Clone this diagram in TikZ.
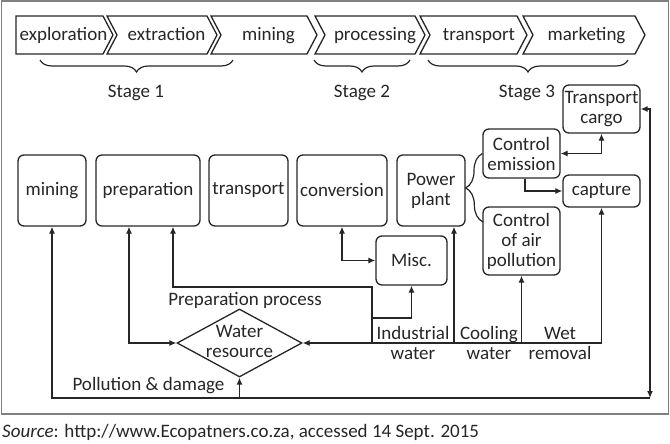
\documentclass[tikz,border=0pt]{standalone}
\usepackage{fontspec}
\setmainfont{Carlito}
\usetikzlibrary{arrows.meta,decorations.pathreplacing,shapes.geometric}
\definecolor{ln}{HTML}{262626}
\definecolor{fr}{HTML}{808080}
\begin{document}
\begin{tikzpicture}[x=1pt,y=-1pt,
  font=\fontsize{19}{20}\selectfont,
  every node/.style={text=ln},
  box/.style={draw=ln, line width=1.3pt, rounded corners=6pt, align=center, inner sep=1pt},
  arr/.style={draw=ln, line width=1.25pt, -{Latex[length=7pt,width=6pt]}},
  darr/.style={draw=ln, line width=1.25pt, {Latex[length=7pt,width=6pt]}-{Latex[length=7pt,width=6pt]}},
  chev/.style={draw=ln, line width=1.3pt, line join=miter},
  chl/.style={inner sep=0pt, text height=12.5pt, text depth=4pt},
  lbl/.style={align=center, inner sep=0pt},
  brc/.style={draw=ln, line width=1.2pt, decorate}]
\useasboundingbox (0,0) rectangle (670,444);
% frame
\draw[fr, line width=1.5pt] (1.5,1) rectangle (668.5,414);
% chevrons
\draw[chev] (16,16) -- (103,16) -- (113,35) -- (103,54) -- (16,54) -- cycle;
\draw[chev] (107,16) -- (207,16) -- (217,35) -- (207,54) -- (107,54) -- (117,35) -- cycle;
\draw[chev] (211,16) -- (307,16) -- (317,35) -- (307,54) -- (211,54) -- (221,35) -- cycle;
\draw[chev] (315,16) -- (415,16) -- (425,35) -- (415,54) -- (315,54) -- (325,35) -- cycle;
\draw[chev] (420,16) -- (517,16) -- (527,35) -- (517,54) -- (420,54) -- (430,35) -- cycle;
\draw[chev] (523,16) -- (635,16) -- (645,35) -- (635,54) -- (523,54) -- (533,35) -- cycle;
\node[chl] (ch1) at (63.5,36.5) {exploration};
\node[chl] (ch2) at (166.5,36.5) {extraction};
\node[chl] (ch3) at (268.5,36.5) {mining};
\node[chl] (ch4) at (375,36.5) {processing};
\node[chl] (ch5) at (479,36.5) {transport};
\node[chl] (ch6) at (586.5,36.5) {marketing};
% braces
\draw[brc, decoration={brace, amplitude=12pt}] (233,60) -- (40,60);
\draw[brc, decoration={brace, amplitude=12pt}] (410,60) -- (314,60);
\draw[brc, decoration={brace, amplitude=12pt}] (628,60) -- (428,60);
\node (s1) at (136,92.5) {Stage 1};
\node (s2) at (362,92.5) {Stage 2};
\node (s3) at (527,92.5) {Stage 3};
% boxes
\node[box, minimum width=68pt, minimum height=71pt] (mining) at (52,190.5) {mining};
\node[box, minimum width=104pt, minimum height=71pt] (prep) at (148,190.5) {preparation};
\node[box, minimum width=79pt, minimum height=71pt] (trans) at (248.5,190.5) {transport};
\node[box, minimum width=90pt, minimum height=71pt] (conv) at (342,190.5) {conversion};
\node[box, minimum width=68pt, minimum height=71pt] (pp) at (431,190.5) {Power\\plant};
\node[box, minimum width=71pt, minimum height=49pt] (misc) at (411.5,260.5) {Misc.};
\node[box, minimum width=77pt, minimum height=49pt] (ce) at (521.5,153.5) {Control\\emission};
\node[box, minimum width=77pt, minimum height=68pt] (cair) at (521.5,241) {Control\\of air\\pollution};
\node[box, minimum width=77pt, minimum height=48pt] (tc) at (601.5,109) {Transport\\cargo};
\node[box, minimum width=77pt, minimum height=32pt] (cap) at (601.5,191) {capture};
\node[diamond, draw=ln, line width=1.3pt, minimum width=125pt, minimum height=68pt, inner sep=0pt] (wr) at (239.5,343) {};
\node[lbl] (wrt) at (239.5,341) {Water\\resource};
% brace power plant -> controls
\coordinate (bB) at (483,222);
\draw[brc, decoration={brace, amplitude=17pt}] (bB) -- (ce.west);
% named free points
\coordinate (bl) at (52,398);
\coordinate (br) at (650,398);
\coordinate (iw) at (372,343);
\coordinate (im) at (372,318);
\coordinate (ip) at (372,287);
\coordinate (prA) at ([xshift=-19pt]prep.south);
\coordinate (prB) at ([xshift=25pt]prep.south);
\coordinate (ppin) at ([xshift=23pt]pp.south);
\coordinate (ceo) at ([xshift=3.5pt]ce.south);
% connectors
\draw[darr] (tc.east) -| (br);
\draw[arr] (br) -- (bl) -- (mining.south);
\draw[arr] (wr.south |- br) -- (wr.south);
\draw[darr] (prA) |- (wr.west);
\draw[arr] (cap.south |- wr.east) -- (wr.east);
\draw[arr] (cap.south |- wr.east) -- (cap.south);
\draw[arr] (cair.south |- wr.east) -- (cair.south);
\draw[arr] (ppin |- wr.east) -- (ppin);
\draw[arr] (iw) -- (ip) -| (prB);
\draw[arr] (im) -| (misc.south);
\draw[darr] (conv.south) |- (misc.west);
\draw[darr] (ce.east) -| (tc.south);
\draw[arr] (ceo) |- (cap.west);
% labels
\node[lbl] (lpp) at (245,300) {Preparation process};
\node[lbl] (lpd) at (148.5,386) {Pollution \& damage};
\node[lbl] (liw) at (413,343) {Industrial\\water};
\node[lbl] (lcw) at (489,343) {Cooling\\water};
\node[lbl] (lwr) at (560,343) {Wet\\removal};
\node[anchor=base west, inner sep=0pt] (src) at (2,437) {\textit{Source}: http://www.Ecopatners.co.za, accessed 14 Sept. 2015};
\end{tikzpicture}
\end{document}
